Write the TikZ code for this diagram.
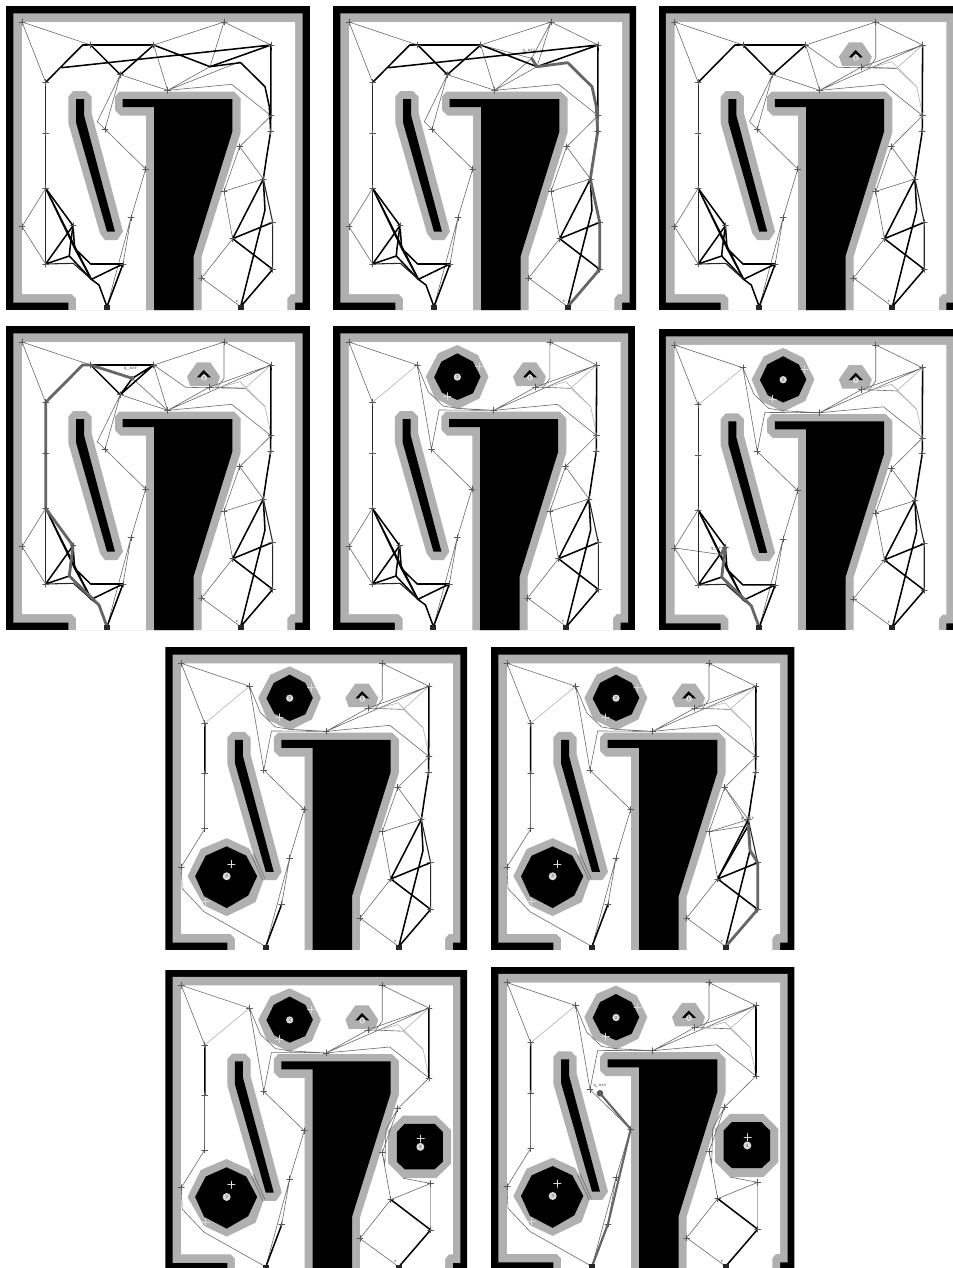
\documentclass[tikz,border=0pt]{standalone}
\usetikzlibrary{calc}

\tikzset{
  padfill/.style={fill=black!31},
  wallfill/.style={fill=black},
  roadthin/.style={draw=black!58, line width=0.45pt},
  roadfaint/.style={draw=black!30, line width=0.45pt},
  roadmid/.style={draw=black!85, line width=0.8pt},
  roadthick/.style={draw=black, line width=1.15pt},
  pathbold/.style={draw=black!60, line width=2.1pt, line join=round},
  tick/.style={draw=black!65, line width=0.5pt},
  whitetick/.style={draw=white!85!black, line width=0.55pt},
  disc/.style={fill=black!15},
  tinytext/.style={font=\fontsize{3.8}{4}\selectfont\ttfamily, text=black!65, inner sep=0pt}
}

%% ---- the workspace shared by all panels ----
\newcommand{\workspace}{
  \fill[wallfill] (18,18) rectangle (930,930);
  \fill[padfill] (40,40) -- (908,40) -- (908,908) -- (885,908) -- (885,930)
    -- (205,930) -- (205,908) -- (40,908) -- cycle;
  \fill[white] (66,66) -- (885,66) -- (885,882) -- (873,882) -- (862,895) -- (862,930)
    -- (228,930) -- (228,895) -- (215,882) -- (66,882) -- cycle;
  \fill[padfill] (358,275) -- (702,275) -- (722,295) -- (722,397) -- (605,770) -- (605,930)
    -- (438,930) -- (438,347) -- (362,347) -- (345,330) -- (345,290) -- cycle;
  \fill[wallfill] (368,297) -- (697,297) -- (697,395) -- (581,768) -- (581,930)
    -- (462,930) -- (462,321) -- (368,321) -- cycle;
  \fill[padfill] (220,273) -- (258,273) -- (275,290) -- (275,340) -- (369,695) -- (352,720)
    -- (315,720) -- (300,700) -- (205,370) -- (205,290) -- cycle;
  \fill[wallfill] (228,297) -- (252,297) -- (252,345) -- (345,695) -- (321,695) -- (228,367) -- cycle;
  \foreach \n/\x/\y in {va/66/66, vb/272/135, vc/461/135, vd/672/66, ve/813/135, vf/137/247,
      vg/361/224, vh/503/271, vi/630/200, vj/722/188, vk/795/260, vl/808/320, vm/813/347,
      vn/812/395, vo/719/440, vp/790/537, vq/672/574, vr/315/388, vs/437/507, vt/137/399,
      vu/137/565, vv/66/680, vw/219/677, vx/137/792, vy/393/653, vz/369/792, ga/321/920,
      lb/274/838, lc/297/855, ld/208/768, le/272/792, lf/224/745, lg/210/745, lh/220/790,
      rg/698/716, rh/818/667, ri/818/808, rj/605/834, gb/722/920, rk/795/630, rl/800/470,
      tb/248/135, tc/185/203, tr/292/365, ti/629/201, ta/735/205, tp/650/205, tq/720/185,
      td/672/175, te/557/202, tf/695/253, ug/305/215, uh/350/258, ui/395/265, uj/338/270,
      ul/69/745, um/135/815}{\coordinate (\n) at (\x,\y);}
}

%% ---- the crosses of the roadmap ----
\newcommand{\crosses}[1]{
  \foreach \n in {#1}{
    \draw[tick] (\n) +(-9,0) -- +(9,0) (\n) +(0,-9) -- +(0,9);
  }
  \fill[black!85] ($(ga)+(-9,-6)$) rectangle ($(ga)+(9,10)$);
  \fill[black!85] ($(gb)+(-9,-6)$) rectangle ($(gb)+(9,10)$);
  \node[tinytext] (startmark) at ($(gb)+(-10,-16)$) {r};
}

%% ---- roadmap parts ----
\newcommand{\lowerleft}{
  \draw[roadthin] (vu) -- (vv) -- (vx) (vs) -- (vy) -- (vz) (vy) -- (ga);
  \draw[roadmid] (vf) -- (vt) -- (vu) -- (vx);
  \draw[roadthick] (vu) -- (vw) -- (lg) -- (ld) -- (lb) -- (vz) -- (ga) -- (lc) -- (lb);
  \draw[roadthick] (vu) -- (lb) (vu) -- (lf) -- (le) -- (vz);
  \draw[roadthick] (vx) -- (vw) (vx) -- (ld) (vw) -- (lf) -- (lb);
  \draw[roadmid] (vx) -- (lh) -- (lb);
}
\newcommand{\lowerright}{
  \draw[roadthin] (vm) -- (vo) -- (vp) -- (vq) -- (vo) (vq) -- (rg) -- (rj) -- (gb);
  \draw[roadthick] (vn) -- (rl) -- (vp) -- (rg) -- (rh) (rg) -- (ri) -- (gb) -- (rk) -- (vp);
  \draw[roadmid] (vp) -- (rh) -- (ri);
}
\newcommand{\upperthin}{
  \draw[roadthin] (va) -- (vb) (va) -- (vf) (vg) -- (vr) (vg) -- (tr) -- (vs) (vg) -- (vh);
  \draw[roadthin] (vc) -- (vd) -- (ve) (vc) -- (vh) (vh) -- (tf) -- (vm);
}
\newcommand{\cornerlines}{
  \draw[roadthin] (vd) -- (td) -- (tp) (vh) -- (ti) -- (ve) (vh) -- (ve);
  \draw[roadfaint] (tp) -- (tq) -- (vk) (ta) -- (ve);
  \draw[roadthin] (ti) -- (ta);
  \draw[roadfaint] (ta) -- (vk) -- (vl) -- (vm);
}
\newcommand{\openupper}{
  \upperthin
  \draw[roadthin] (vc) -- (te) -- (ta);
  \cornerlines
  \draw[roadthick] (ve) -- (vn);
}
\newcommand{\closedupper}{
  \draw[roadthin] (va) -- (vb) (va) -- (vf) (vr) -- (vs) (vd) -- (ve);
  \draw[roadthin] (vb) -- (vr) -- (uj) -- (vh) (vb) -- (ug) -- (uh) -- (ui) -- (vh);
  \draw[roadthin] (vh) -- (tf) -- (vm);
  \draw[roadfaint] (vf) -- (vb);
  \cornerlines
}
\newcommand{\lowerthree}{
  \draw[roadthin] (vu) -- (vv) -- (ul) -- (um) -- (ga) (vs) -- (vy) -- (vz) (vy) -- (ga);
  \draw[roadthin] (vt) -- (vu);
  \draw[roadthick] (vf) -- (vt) (vz) -- (ga);
  \draw[roadthin] (285,640) -- (318,715) (278,645) -- (312,720);
}

%% ---- obstacles found on the way ----
\newcommand{\obstone}{
  \fill[padfill] (591,127) -- (631,127) -- (660,170) -- (651,198) -- (571,198) -- (561,170) -- cycle;
  \fill[wallfill] (611,150) -- (591,172) -- (601,172) -- (612,160) -- (623,172) -- (633,172) -- cycle;
  \fill[disc] (612,173) circle (9);
  \node[tinytext] (numone) at (612,173) {1};
}
\newcommand{\obsttwo}{
  \fill[padfill] (393,75) -- (455,105) -- (487,170) -- (460,235) -- (393,268) -- (325,235)
    -- (298,170) -- (335,100) -- cycle;
  \fill[wallfill] (393,100) -- (440,125) -- (463,170) -- (440,220) -- (393,240) -- (347,218)
    -- (323,172) -- (345,125) -- cycle;
  \fill[disc] (393,171) circle (11);
  \node[tinytext] (numtwo) at (393,171) {2};
  \draw[whitetick] (458,128) -- (458,150) (447,139) -- (469,139);
  \draw[whitetick] (362,218) -- (362,240) (351,229) -- (373,229);
}
\newcommand{\obstthree}{
  \fill[padfill] (203,593) -- (270,624) -- (318,708) -- (290,786) -- (203,828) -- (135,796)
    -- (85,708) -- (125,626) -- cycle;
  \fill[wallfill] (203,618) -- (262,646) -- (295,708) -- (268,766) -- (203,804) -- (135,768)
    -- (108,708) -- (140,646) -- cycle;
  \fill[disc] (203,708) circle (12);
  \node[tinytext] (numthree) at (203,708) {3};
  \draw[whitetick] (217,660) -- (217,682) (206,671) -- (228,671);
  \draw[whitetick] (140,774) -- (140,796) (129,785) -- (151,785);
}
\newcommand{\obstfour}{
  \fill[padfill] (735,461) -- (835,461) -- (880,506) -- (880,606) -- (835,651) -- (735,651)
    -- (690,606) -- (690,506) -- cycle;
  \fill[wallfill] (740,486) -- (830,486) -- (855,511) -- (855,601) -- (830,624) -- (740,624)
    -- (716,601) -- (716,511) -- cycle;
  \fill[disc] (787,556) circle (12);
  \node[tinytext] (numfour) at (787,556) {4};
  \draw[whitetick] (788,520) -- (788,542) (777,531) -- (799,531);
}
\newcommand{\obstfourlines}{
  \draw[roadthin] (vm) -- (vo) -- (683,505) -- (680,610) -- (vq) -- (rg) -- (rj) -- (gb) (vo) -- (vq);
  \draw[roadthin] (rg) -- (rh) (735,651) -- (rh);
  \draw[roadfaint] (rh) -- (ri);
  \draw[roadthick] (ve) -- (vm) (rg) -- (ri) -- (gb);
}

\begin{document}
\begin{tikzpicture}[x=0.25pt, y=-0.25pt, line cap=round, line join=round]
  \useasboundingbox (0,0) rectangle (2859,3804);

  %% ---- row 1, plain roadmap ----
  \begin{scope}
    \clip (18,18) rectangle (930,930);
    \workspace
    \upperthin
    \draw[roadthin] (vd) -- (vi) -- (vh) (vh) -- (tq);
    \draw[roadthick] (vf) -- (tb) -- (vb) -- (vc) -- (vi) -- (ve) -- (tc);
    \draw[roadthick] (vb) -- (vg) -- (vc) (vi) -- (vj) -- (vk) -- (vl) -- (vn) (ve) -- (vn);
    \lowerleft
    \lowerright
    \crosses{va,vb,vc,vd,ve,vf,vg,vh,vm,vn,vo,vp,vq,vr,vs,vt,vu,vv,vw,vx,vy,vz,rg,rh,ri,rj}
  \end{scope}

  \begin{scope}[shift={(981,0)}]
    \clip (18,18) rectangle (927,930);
    \workspace
    \coordinate (qarr) at (614,175);
    \upperthin
    \draw[roadthin] (vd) -- (qarr) -- (vh) (vd) -- (vi) -- (vh) (vc) -- (qarr);
    \draw[roadthick] (vf) -- (tb) -- (vb) -- (vc) -- (vi) -- (ve) -- (tc);
    \draw[roadthick] (vb) -- (vg) -- (vc) (ve) -- (vn);
    \lowerleft
    \lowerright
    \draw[pathbold] (gb) -- (ri) -- (rh) -- (vp) -- (vn) -- (vl) -- (vk) -- (vj) -- (vi) -- (qarr);
    \node[tinytext] (qlabel) at (606,152) {q\_arr};
    \crosses{va,vb,vc,vd,ve,vf,vg,vh,vm,vn,vo,vp,vq,vr,vs,vt,vu,vv,vw,vx,vy,vz,rg,rh,ri,rj}
  \end{scope}

  %% ---- row 1, first obstacle ----
  \begin{scope}[shift={(1958,0)}, xscale=0.996]
    \clip (18,18) rectangle (930,930);
    \workspace
    \obstone
    \openupper
    \draw[roadthick] (vf) -- (tb) -- (vb) -- (vc) -- (vg) -- (vb);
    \lowerleft
    \lowerright
    \crosses{va,vb,vc,vd,ve,vf,vg,vh,ti,vm,vn,vo,vp,vq,vr,vs,vt,vu,vv,vw,vx,vy,vz,rg,rh,ri,rj}
  \end{scope}

  %% ---- row 2 ----
  \begin{scope}[shift={(0,960)}]
    \clip (18,18) rectangle (930,930);
    \workspace
    \obstone
    \coordinate (qarr) at (397,175);
    \openupper
    \draw[roadthin] (qarr) -- (vh) (qarr) -- (vc);
    \draw[roadthick] (vb) -- (vc) -- (vg) -- (vb) (vc) -- (qarr) -- (vg);
    \lowerleft
    \lowerright
    \draw[pathbold] (ga) -- (lc) -- (ld) -- (vw) -- (vu) -- (vf) -- (tb) -- (vb) -- (qarr);
    \fill[black!60] (qarr) circle (7);
    \node[tinytext] (qlabel) at (392,148) {q\_arr};
    \crosses{va,vb,vc,vd,ve,vf,vg,vh,ti,vm,vn,vo,vp,vq,vr,vs,vt,vu,vv,vw,vx,vy,vz,rg,rh,ri,rj}
  \end{scope}

  \begin{scope}[shift={(981,960)}, xscale=0.995]
    \clip (18,18) rectangle (928,930);
    \workspace
    \obstone
    \obsttwo
    \closedupper
    \draw[roadthick] (ve) -- (vn);
    \lowerleft
    \lowerright
    \crosses{va,vb,vd,ve,vf,vh,ti,vm,vn,vo,vp,vq,vr,vs,vt,vu,vv,vw,vx,vy,vz,rg,rh,ri,rj}
  \end{scope}

  \begin{scope}[shift={(1958,969.5)}, xscale=0.996, yscale=0.9917]
    \clip (18,18) rectangle (930,928);
    \workspace
    \obstone
    \obsttwo
    \coordinate (qarr) at (205,700);
    \closedupper
    \draw[roadthick] (ve) -- (vn);
    \draw[roadthin] (vv) -- (qarr);
    \lowerleft
    \lowerright
    \draw[pathbold] (ga) -- (lc) -- (ld) -- (vw) -- (qarr);
    \node[tinytext] (qlabel) at (195,684) {q\_arr};
    \crosses{va,vb,vd,ve,vf,vh,ti,vm,vn,vo,vp,vq,vr,vs,vt,vu,vv,vw,vx,vy,vz,rg,rh,ri,rj}
  \end{scope}

  %% ---- row 3, third obstacle ----
  \begin{scope}[shift={(478,1924.3)}, xscale=0.995, yscale=0.995]
    \clip (18,18) rectangle (928,930);
    \workspace
    \obstone
    \obsttwo
    \obstthree
    \closedupper
    \draw[roadthick] (ve) -- (vn);
    \lowerthree
    \lowerright
    \crosses{va,vb,vd,ve,vf,vh,ti,vm,vn,vo,vp,vq,vr,vs,vt,vu,vv,vy,vz,rg,rh,ri,rj}
  \end{scope}

  \begin{scope}[shift={(1455,1924.3)}, yscale=0.995]
    \clip (18,18) rectangle (928,930);
    \workspace
    \obstone
    \obsttwo
    \obstthree
    \coordinate (qarr) at (790,555);
    \closedupper
    \draw[roadthick] (ve) -- (vn);
    \draw[roadthin] (vq) -- (qarr) -- (vo);
    \lowerthree
    \lowerright
    \draw[roadthick] (rg) -- (qarr);
    \draw[pathbold] (gb) -- (ri) -- (rh) -- (rk) -- (qarr);
    \node[tinytext] (qlabel) at (788,534) {q\_arr};
    \crosses{va,vb,vd,ve,vf,vh,ti,vm,vn,vo,vp,vq,vr,vs,vt,vu,vv,vy,vz,rg,rh,ri,rj}
  \end{scope}

  %% ---- row 4, fourth obstacle ----
  \begin{scope}[shift={(478,2890.7)}, xscale=0.995, yscale=0.989]
    \clip (18,18) rectangle (928,930);
    \workspace
    \obstone
    \obsttwo
    \obstthree
    \obstfour
    \closedupper
    \lowerthree
    \obstfourlines
    \crosses{va,vb,vd,ve,vf,vh,ti,vm,vo,vq,vr,vs,vt,vu,vv,vy,vz,rg,rh,ri,rj}
  \end{scope}

  \begin{scope}[shift={(1455,2882)}, yscale=0.997]
    \clip (18,18) rectangle (928,930);
    \workspace
    \obstone
    \obsttwo
    \obstthree
    \obstfour
    \coordinate (qarr) at (345,399);
    \closedupper
    \lowerthree
    \obstfourlines
    \draw[pathbold, line width=1.6pt] (ga) -- (vz) -- (vs) -- (qarr);
    \fill[black!65] (qarr) circle (10);
    \node[tinytext] (qlabel) at (345,377) {q\_arr};
    \crosses{va,vb,vd,ve,vf,vh,ti,vm,vo,vq,vr,vs,vt,vu,vv,vy,vz,rg,rh,ri,rj}
  \end{scope}
\end{tikzpicture}
\end{document}
